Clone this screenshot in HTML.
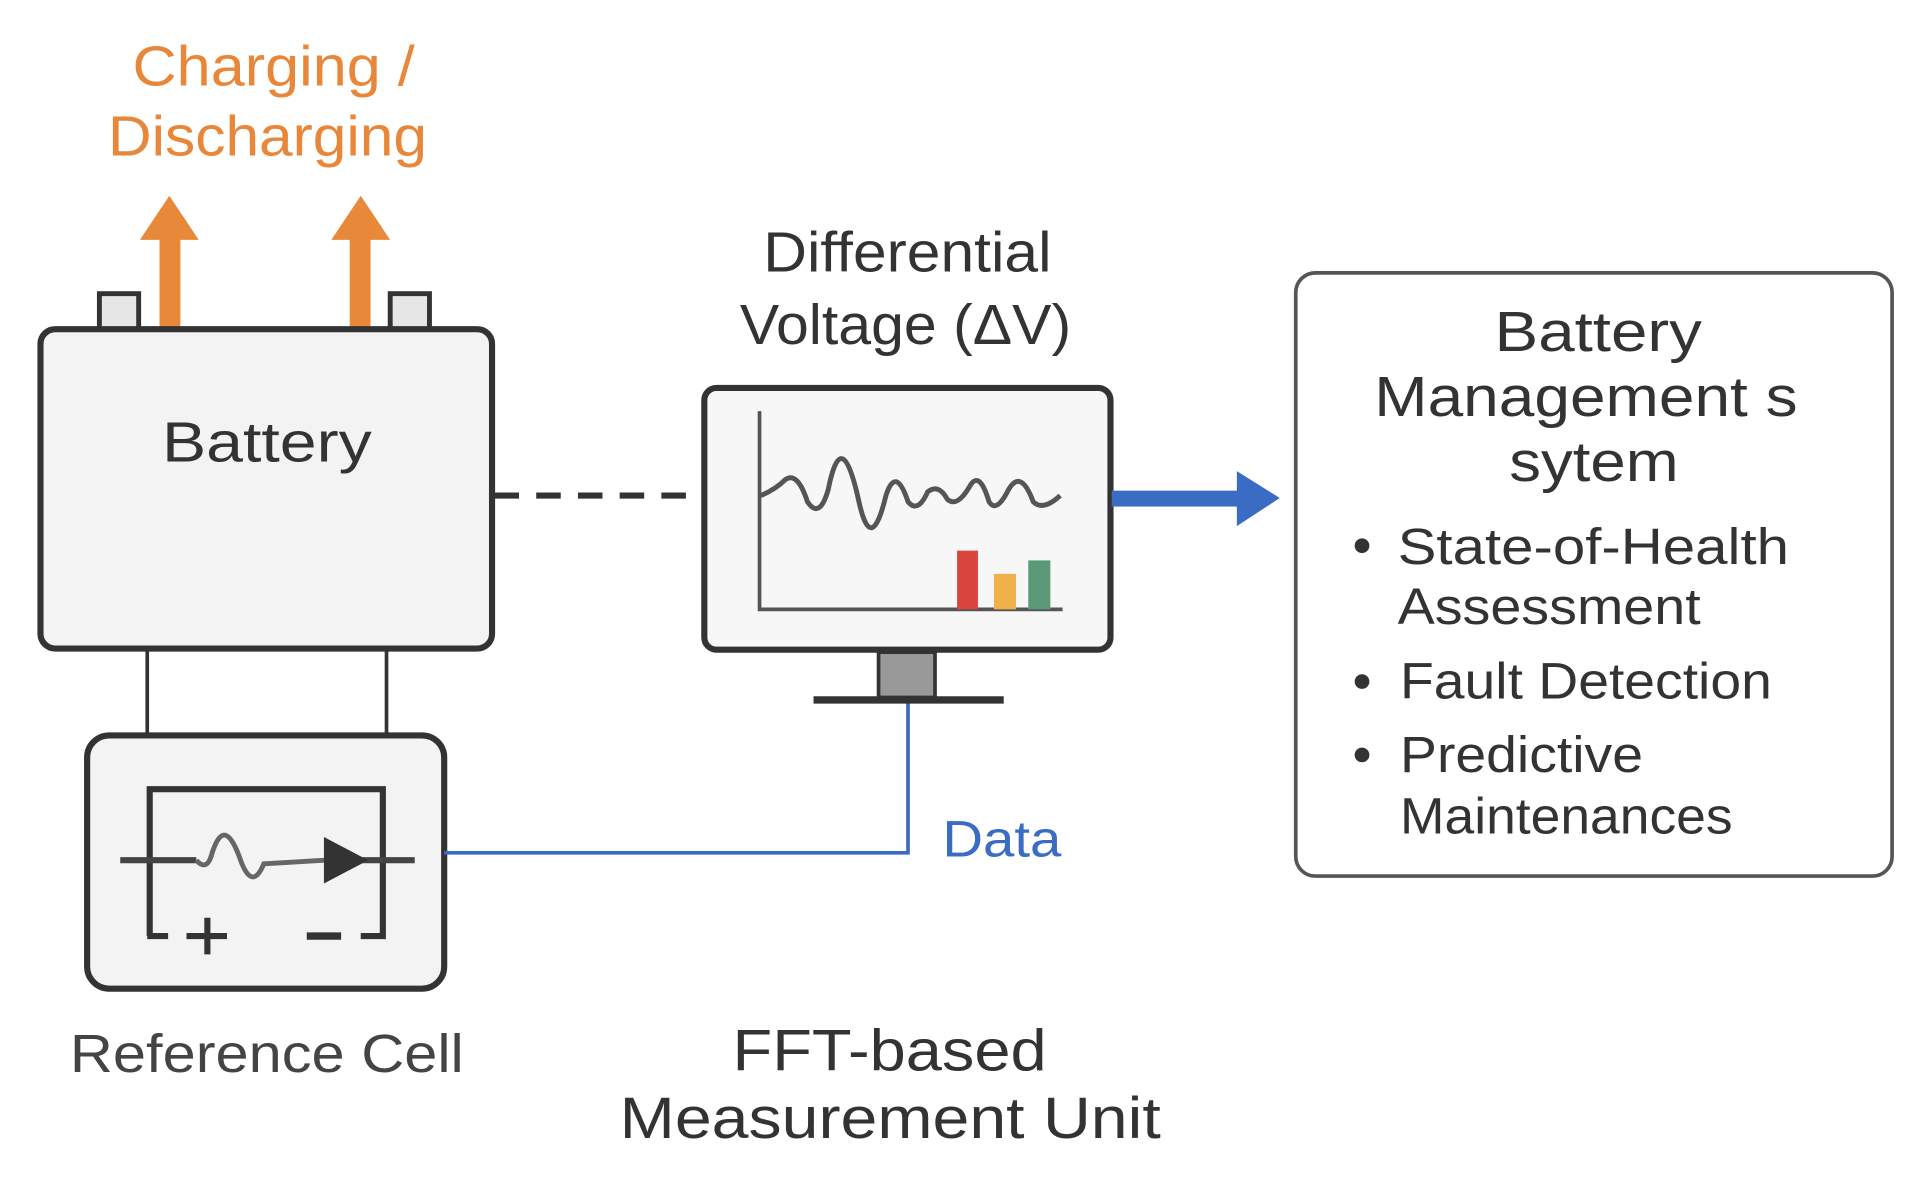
<!DOCTYPE html>
<html><head><meta charset="utf-8"><style>
html,body{margin:0;padding:0;background:#fff;}
svg{display:block;}
text{font-family:"Liberation Sans","DejaVu Sans",sans-serif;}
</style></head><body>
<svg width="1924" height="1182" viewBox="0 0 1568 966" preserveAspectRatio="none" xmlns="http://www.w3.org/2000/svg">
<rect width="1568" height="966" fill="#fff"/>
<g lengthAdjust="spacingAndGlyphs">
<text x="108" y="70" font-size="46" fill="#e8873a" textLength="230" lengthAdjust="spacingAndGlyphs">Charging /</text>
<text x="88" y="127" font-size="46" fill="#e8873a" textLength="260" lengthAdjust="spacingAndGlyphs">Discharging</text>
</g>
<g fill="#e8893a">
<rect x="130" y="192" width="17" height="78"/><polygon points="114,196 138,160 162,196"/>
<rect x="285" y="192" width="17" height="78"/><polygon points="270,196 294,160 318,196"/>
</g>
<rect x="81" y="240" width="32" height="30" fill="#e6e6e6" stroke="#333" stroke-width="4"/>
<rect x="318" y="240" width="32" height="30" fill="#e6e6e6" stroke="#333" stroke-width="4"/>
<rect x="33" y="269" width="368" height="261" rx="12" fill="#f3f3f3" stroke="#333" stroke-width="5"/>
<text x="132" y="377" font-size="46" fill="#333" textLength="171" lengthAdjust="spacingAndGlyphs">Battery</text>
<line x1="120" y1="531" x2="120" y2="601" stroke="#333" stroke-width="3"/>
<line x1="315" y1="531" x2="315" y2="601" stroke="#333" stroke-width="3"/>
<line x1="403" y1="405" x2="573" y2="405" stroke="#333" stroke-width="5" stroke-dasharray="20,14"/>
<rect x="71" y="601" width="291" height="207" rx="18" fill="#f3f3f3" stroke="#333" stroke-width="5"/>
<path d="M122,765 L122,645 L312,645 L312,765 L294,765" fill="none" stroke="#333" stroke-width="5"/>
<line x1="120" y1="765" x2="137" y2="765" stroke="#333" stroke-width="5"/>
<line x1="152" y1="765" x2="185" y2="765" stroke="#333" stroke-width="5"/>
<line x1="169" y1="750" x2="169" y2="780" stroke="#333" stroke-width="5"/>
<line x1="250" y1="765" x2="278" y2="765" stroke="#333" stroke-width="6"/>
<line x1="98" y1="703" x2="160" y2="703" stroke="#444" stroke-width="5"/>
<path d="M160,703 Q168,712 172,700 Q182,665 195,700 Q205,730 215,706 L265,703" fill="none" stroke="#666" stroke-width="4"/>
<line x1="295" y1="703" x2="338" y2="703" stroke="#444" stroke-width="5"/>
<polygon points="264,684 264,722 300,703" fill="#333"/>
<text x="57" y="876" font-size="44" fill="#444" textLength="321" lengthAdjust="spacingAndGlyphs">Reference Cell</text>
<polyline points="362,697 740,697 740,572" fill="none" stroke="#3b6cc4" stroke-width="3"/>
<text x="768" y="700" font-size="42" fill="#3b6cc4" textLength="97" lengthAdjust="spacingAndGlyphs">Data</text>
<text x="622" y="222" font-size="46" fill="#333" textLength="235" lengthAdjust="spacingAndGlyphs">Differential</text>
<text x="603" y="281" font-size="46" fill="#333" textLength="270" lengthAdjust="spacingAndGlyphs">Voltage (ΔV)</text>
<rect x="574" y="317" width="331" height="214" rx="10" fill="#f7f7f7" stroke="#333" stroke-width="5"/>
<rect x="716" y="533" width="46" height="37" fill="#999" stroke="#333" stroke-width="3"/>
<line x1="663" y1="572" x2="818" y2="572" stroke="#333" stroke-width="6"/>
<polyline points="619,336 619,498 866,498" fill="none" stroke="#555" stroke-width="3"/>
<path d="M620,405 Q632,400 640,392 Q650,385 658,410 Q668,425 675,400 Q686,345 700,410 Q710,455 722,405 Q730,380 740,410 Q748,420 756,402 Q765,395 772,408 Q780,415 790,398 Q798,383 806,410 Q812,420 822,400 Q832,383 842,410 Q850,418 864,405" fill="none" stroke="#555" stroke-width="4"/>
<rect x="780" y="450" width="17" height="48" fill="#d9453d"/>
<rect x="810" y="469" width="18" height="29" fill="#f0b04a"/>
<rect x="838" y="458" width="18" height="40" fill="#5a9a78"/>
<text x="597" y="875" font-size="48" fill="#333" textLength="256" lengthAdjust="spacingAndGlyphs">FFT-based</text>
<text x="505" y="930" font-size="48" fill="#333" textLength="441" lengthAdjust="spacingAndGlyphs">Measurement Unit</text>
<rect x="906" y="401" width="106" height="13" fill="#3b6cc4"/>
<polygon points="1008,385 1043,407 1008,430" fill="#3b6cc4"/>
<rect x="1056" y="223" width="486" height="493" rx="16" fill="#fff" stroke="#555" stroke-width="3"/>
<text x="1218" y="287" font-size="46" fill="#333" textLength="169" lengthAdjust="spacingAndGlyphs">Battery</text>
<text x="1120" y="340" font-size="46" fill="#333" textLength="345" lengthAdjust="spacingAndGlyphs">Management s</text>
<text x="1230" y="393" font-size="46" fill="#333" textLength="138" lengthAdjust="spacingAndGlyphs">sytem</text>
<g font-size="42" fill="#333">
<circle cx="1110" cy="446" r="6" fill="#333"/><text x="1139" y="461" textLength="319" lengthAdjust="spacingAndGlyphs">State-of-Health</text>
<text x="1139" y="510" textLength="247" lengthAdjust="spacingAndGlyphs">Assessment</text>
<circle cx="1110" cy="557" r="6" fill="#333"/><text x="1141" y="571" textLength="303" lengthAdjust="spacingAndGlyphs">Fault Detection</text>
<circle cx="1110" cy="617" r="6" fill="#333"/><text x="1141" y="631" textLength="198" lengthAdjust="spacingAndGlyphs">Predictive</text>
<text x="1141" y="681" textLength="271" lengthAdjust="spacingAndGlyphs">Maintenances</text>
</g>
</svg>
</body></html>
